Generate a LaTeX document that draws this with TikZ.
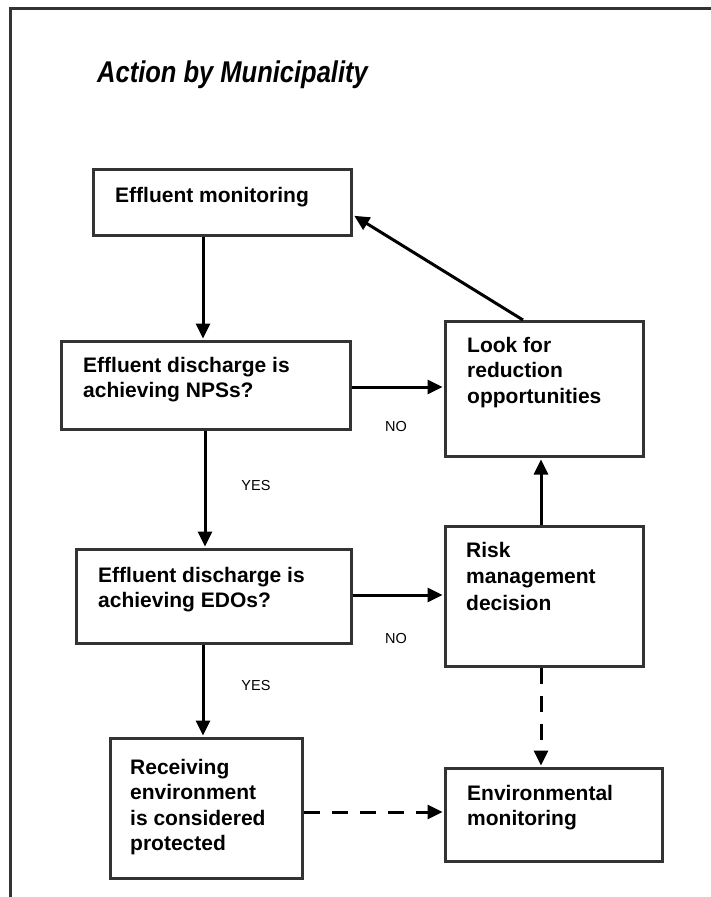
\documentclass[tikz,border=0pt]{standalone}
\usepackage{fontspec}
\setmainfont{Liberation Sans}
\usepackage{graphicx}
\usetikzlibrary{arrows.meta,calc}
\newcommand{\mlines}[1]{\begin{tabular}[t]{@{}l@{}}#1\end{tabular}}
\definecolor{framegray}{HTML}{333333}
\begin{document}
\begin{tikzpicture}[x=1pt,y=-1pt,
  box/.style={draw=framegray, line width=3pt, inner sep=0pt, anchor=north west, fill=white},
  txt/.style={anchor=base west, inner sep=0pt, font=\fontsize{21}{25.5}\selectfont\bfseries},
  lbl/.style={inner sep=0pt, font=\fontsize{14.5}{17}\selectfont},
  arr/.style={line width=3pt, shorten >=1.5pt, -{Triangle[length=15pt,width=14pt]}},
  darr/.style={arr, dash pattern=on 16pt off 12pt}]
\useasboundingbox (0,0) rectangle (711,897);
\fill[white] (0,0) rectangle (711,897);
% frame
\draw[framegray, line width=3pt] (10,897) -- (10,8) -- (711,8);
% title
\node[anchor=base west, inner sep=0pt] (title) at (97,82)
  {\scalebox{0.85}[1]{\fontsize{30}{34}\selectfont\bfseries\itshape Action by Municipality}};
% boxes
\node[box, minimum width=258pt, minimum height=66pt] (b1) at (92,168) {};
\node[box, minimum width=289pt, minimum height=88pt] (b2) at (60,340) {};
\node[box, minimum width=275pt, minimum height=94pt] (b3) at (75,548) {};
\node[box, minimum width=192pt, minimum height=140pt] (b4) at (109,737) {};
\node[box, minimum width=198pt, minimum height=135pt] (look) at (444,320) {};
\node[box, minimum width=198pt, minimum height=140pt] (risk) at (444,525) {};
\node[box, minimum width=217pt, minimum height=93pt] (env) at (444,767) {};
% texts
\node[txt] (t1) at (115,202) {Effluent monitoring};
\node[txt] (t2) at (83,372) {\mlines{Effluent discharge is\\achieving NPSs?}};
\node[txt] (t3) at (98,582) {\mlines{Effluent discharge is\\achieving EDOs?}};
\node[txt] (t4) at (130,774) {\mlines{Receiving\\environment\\is considered\\protected}};
\node[txt] (tl) at (467,352) {\mlines{Look for\\reduction\\opportunities}};
\node[txt, font=\fontsize{21}{26.5}\selectfont\bfseries] (tr) at (466,557) {\mlines{Risk\\management\\decision}};
\node[txt] (te) at (467,800) {\mlines{Environmental\\monitoring}};
% labels
\node[lbl] (no1) at (396,427) {NO};
\node[lbl] (no2) at (396,638) {NO};
\node[lbl] (yes1) at (256,486) {YES};
\node[lbl] (yes2) at (256,685) {YES};
% helper coordinates
\coordinate (xa) at (203,0);
\coordinate (xb) at (205,0);
\coordinate (xc) at (541,0);
\coordinate (xd) at (523,0);
\coordinate (ya) at (0,387);
\coordinate (yb) at (0,595);
\coordinate (yc) at (0,215);
\coordinate (yd) at (0,812);
% connectors
\draw[arr] (b1.south -| xa) -- (b2.north -| xa);
\draw[arr] (b2.south -| xb) -- (b3.north -| xb);
\draw[arr] (b3.south -| xa) -- (b4.north -| xa);
\draw[arr] (b2.east |- ya) -- (look.west |- ya);
\draw[arr] (b3.east |- yb) -- (risk.west |- yb);
\draw[arr] (risk.north -| xc) -- (look.south -| xc);
\draw[arr] (look.north -| xd) -- (b1.east |- yc);
\draw[darr] (risk.south -| xc) -- (env.north -| xc);
\draw[darr] (b4.east |- yd) -- (env.west |- yd);
\end{tikzpicture}
\end{document}
